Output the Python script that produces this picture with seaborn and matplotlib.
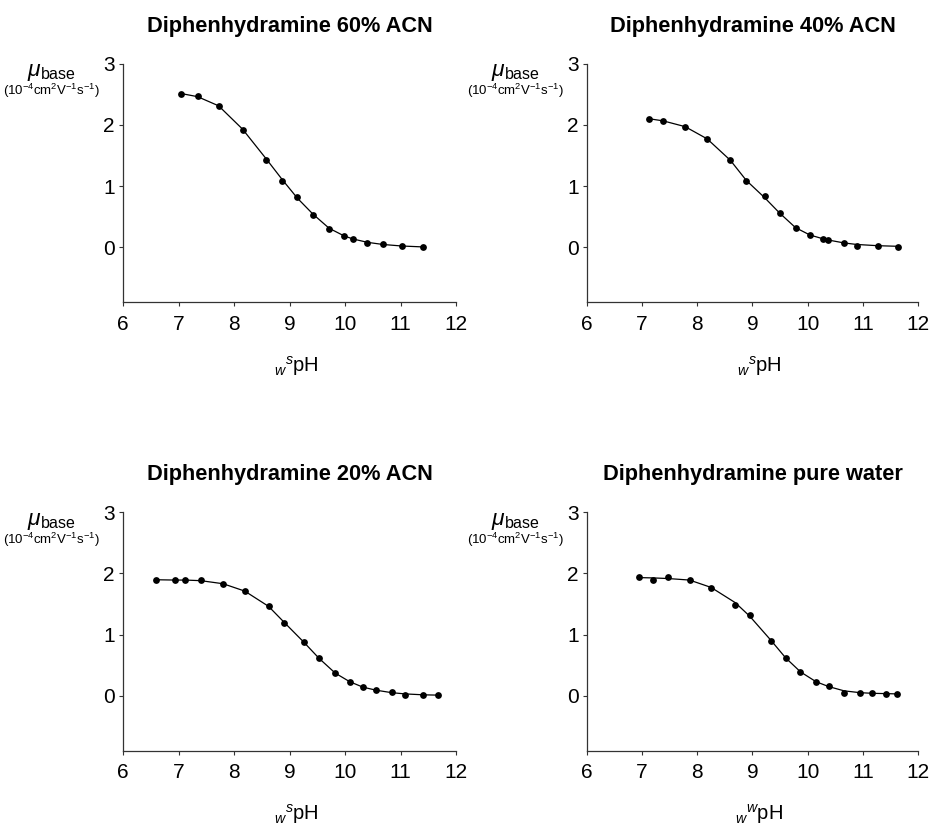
"""Diphenhydramine base mobility vs pH, four solvent compositions (2x2 grid)."""
import matplotlib
matplotlib.use("Agg")
import matplotlib.pyplot as plt
import seaborn as sns

sns.set_style("ticks")
plt.rcParams["font.family"] = ["Liberation Sans", "DejaVu Sans"]
plt.rcParams["mathtext.fontset"] = "custom"
plt.rcParams["mathtext.rm"] = "Liberation Sans"
plt.rcParams["mathtext.it"] = "Liberation Sans:italic"
plt.rcParams["mathtext.bf"] = "Liberation Sans:bold"
plt.rcParams["text.color"] = "black"
plt.rcParams["axes.labelcolor"] = "black"
plt.rcParams["xtick.labelcolor"] = "black"
plt.rcParams["ytick.labelcolor"] = "black"

# --- data ---------------------------------------------------------------
titles = ["Diphenhydramine 60% ACN", "Diphenhydramine 40% ACN",
          "Diphenhydramine 20% ACN", "Diphenhydramine pure water"]
xlabels = [r"${}_{w}{}^{s}$pH", r"${}_{w}{}^{s}$pH",
           r"${}_{w}{}^{s}$pH", r"${}_{w}{}^{w}$pH"]

ph_60 = [7.05, 7.34, 7.72, 8.15, 8.58, 8.87, 9.14, 9.42, 9.71, 9.98, 10.14,
         10.40, 10.68, 11.02, 11.40]
mu_60 = [2.51, 2.47, 2.30, 1.92, 1.43, 1.09, 0.82, 0.53, 0.30, 0.185, 0.135,
         0.07, 0.045, 0.02, 0.0]
fit_60 = [2.51, 2.46, 2.31, 1.93, 1.44, 1.10, 0.80, 0.54, 0.31, 0.185, 0.135,
          0.08, 0.045, 0.02, 0.005]

ph_40 = [7.12, 7.38, 7.78, 8.18, 8.60, 8.89, 9.22, 9.49, 9.78, 10.04, 10.27,
         10.36, 10.66, 10.89, 11.27, 11.64]
mu_40 = [2.10, 2.06, 1.97, 1.77, 1.43, 1.08, 0.83, 0.56, 0.31, 0.20, 0.14,
         0.11, 0.065, 0.02, 0.02, 0.01]
fit_40 = [2.10, 2.065, 1.97, 1.77, 1.42, 1.09, 0.81, 0.56, 0.32, 0.20, 0.14,
          0.12, 0.07, 0.045, 0.025, 0.015]

ph_20 = [6.60, 6.94, 7.12, 7.40, 7.80, 8.19, 8.62, 8.90, 9.26, 9.53, 9.82,
         10.08, 10.32, 10.56, 10.84, 11.08, 11.41, 11.68]
mu_20 = [1.89, 1.895, 1.89, 1.89, 1.825, 1.715, 1.46, 1.19, 0.88, 0.61, 0.365,
         0.225, 0.15, 0.09, 0.06, 0.005, 0.005, 0.015]
fit_20 = [1.895, 1.89, 1.89, 1.88, 1.83, 1.71, 1.46, 1.20, 0.87, 0.61, 0.37,
          0.23, 0.14, 0.09, 0.05, 0.03, 0.015, 0.01]

ph_w = [6.95, 7.20, 7.47, 7.86, 8.25, 8.69, 8.95, 9.34, 9.60, 9.87, 10.15,
        10.38, 10.66, 10.95, 11.17, 11.41, 11.62]
mu_w = [1.935, 1.895, 1.935, 1.885, 1.76, 1.49, 1.32, 0.90, 0.61, 0.39, 0.23,
        0.16, 0.045, 0.045, 0.04, 0.035, 0.035]
fit_w = [1.93, 1.925, 1.915, 1.89, 1.77, 1.52, 1.30, 0.90, 0.62, 0.39, 0.23,
         0.15, 0.08, 0.05, 0.04, 0.035, 0.03]

panels = [(ph_60, mu_60, fit_60), (ph_40, mu_40, fit_40),
          (ph_20, mu_20, fit_20), (ph_w, mu_w, fit_w)]

# axes rectangles in figure fractions (left, bottom, width, height)
rects = [(0.132, 0.634, 0.357, 0.289), (0.629, 0.634, 0.355, 0.289),
         (0.132, 0.091, 0.357, 0.289), (0.629, 0.091, 0.355, 0.289)]

fig = plt.figure(figsize=(9.33, 8.26), dpi=100)

for (ph, mu, fit), rect, title, xl in zip(panels, rects, titles, xlabels):
    ax = fig.add_axes(rect)
    sns.lineplot(x=ph, y=fit, ax=ax, color="black", linewidth=0.9, sort=False)
    sns.scatterplot(x=ph, y=mu, ax=ax, color="black", s=24, edgecolor="black",
                    linewidth=0, zorder=3)
    ax.set_xlim(6, 12)
    ax.set_ylim(-0.9, 3)
    ax.set_xticks(range(6, 13))
    ax.set_yticks([0, 1, 2, 3])
    ax.tick_params(axis="both", labelsize=15, length=3, width=0.8,
                   color="#333333")
    ax.tick_params(axis="x", pad=6)
    ax.tick_params(axis="y", pad=3)
    sns.despine(ax=ax)
    for side in ("left", "bottom"):
        ax.spines[side].set_color("#333333")
        ax.spines[side].set_linewidth(0.9)

    ax.set_title(title, fontsize=15.7, fontweight="bold", y=1.134, pad=0)
    ax.set_xlabel(xl, fontsize=14.5)
    ax.xaxis.set_label_coords(0.52, -0.215)
    ax.set_ylabel("")
    ax.text(-0.215, 0.965, r"$\mu_{\mathrm{base}}$", transform=ax.transAxes,
            fontsize=16.5, ha="center", va="center")
    ax.text(-0.215, 0.885, r"(10$^{-4}$cm$^{2}$V$^{-1}$s$^{-1}$)",
            transform=ax.transAxes, fontsize=9.5, ha="center", va="center")

fig.savefig("out.png", dpi=100)
